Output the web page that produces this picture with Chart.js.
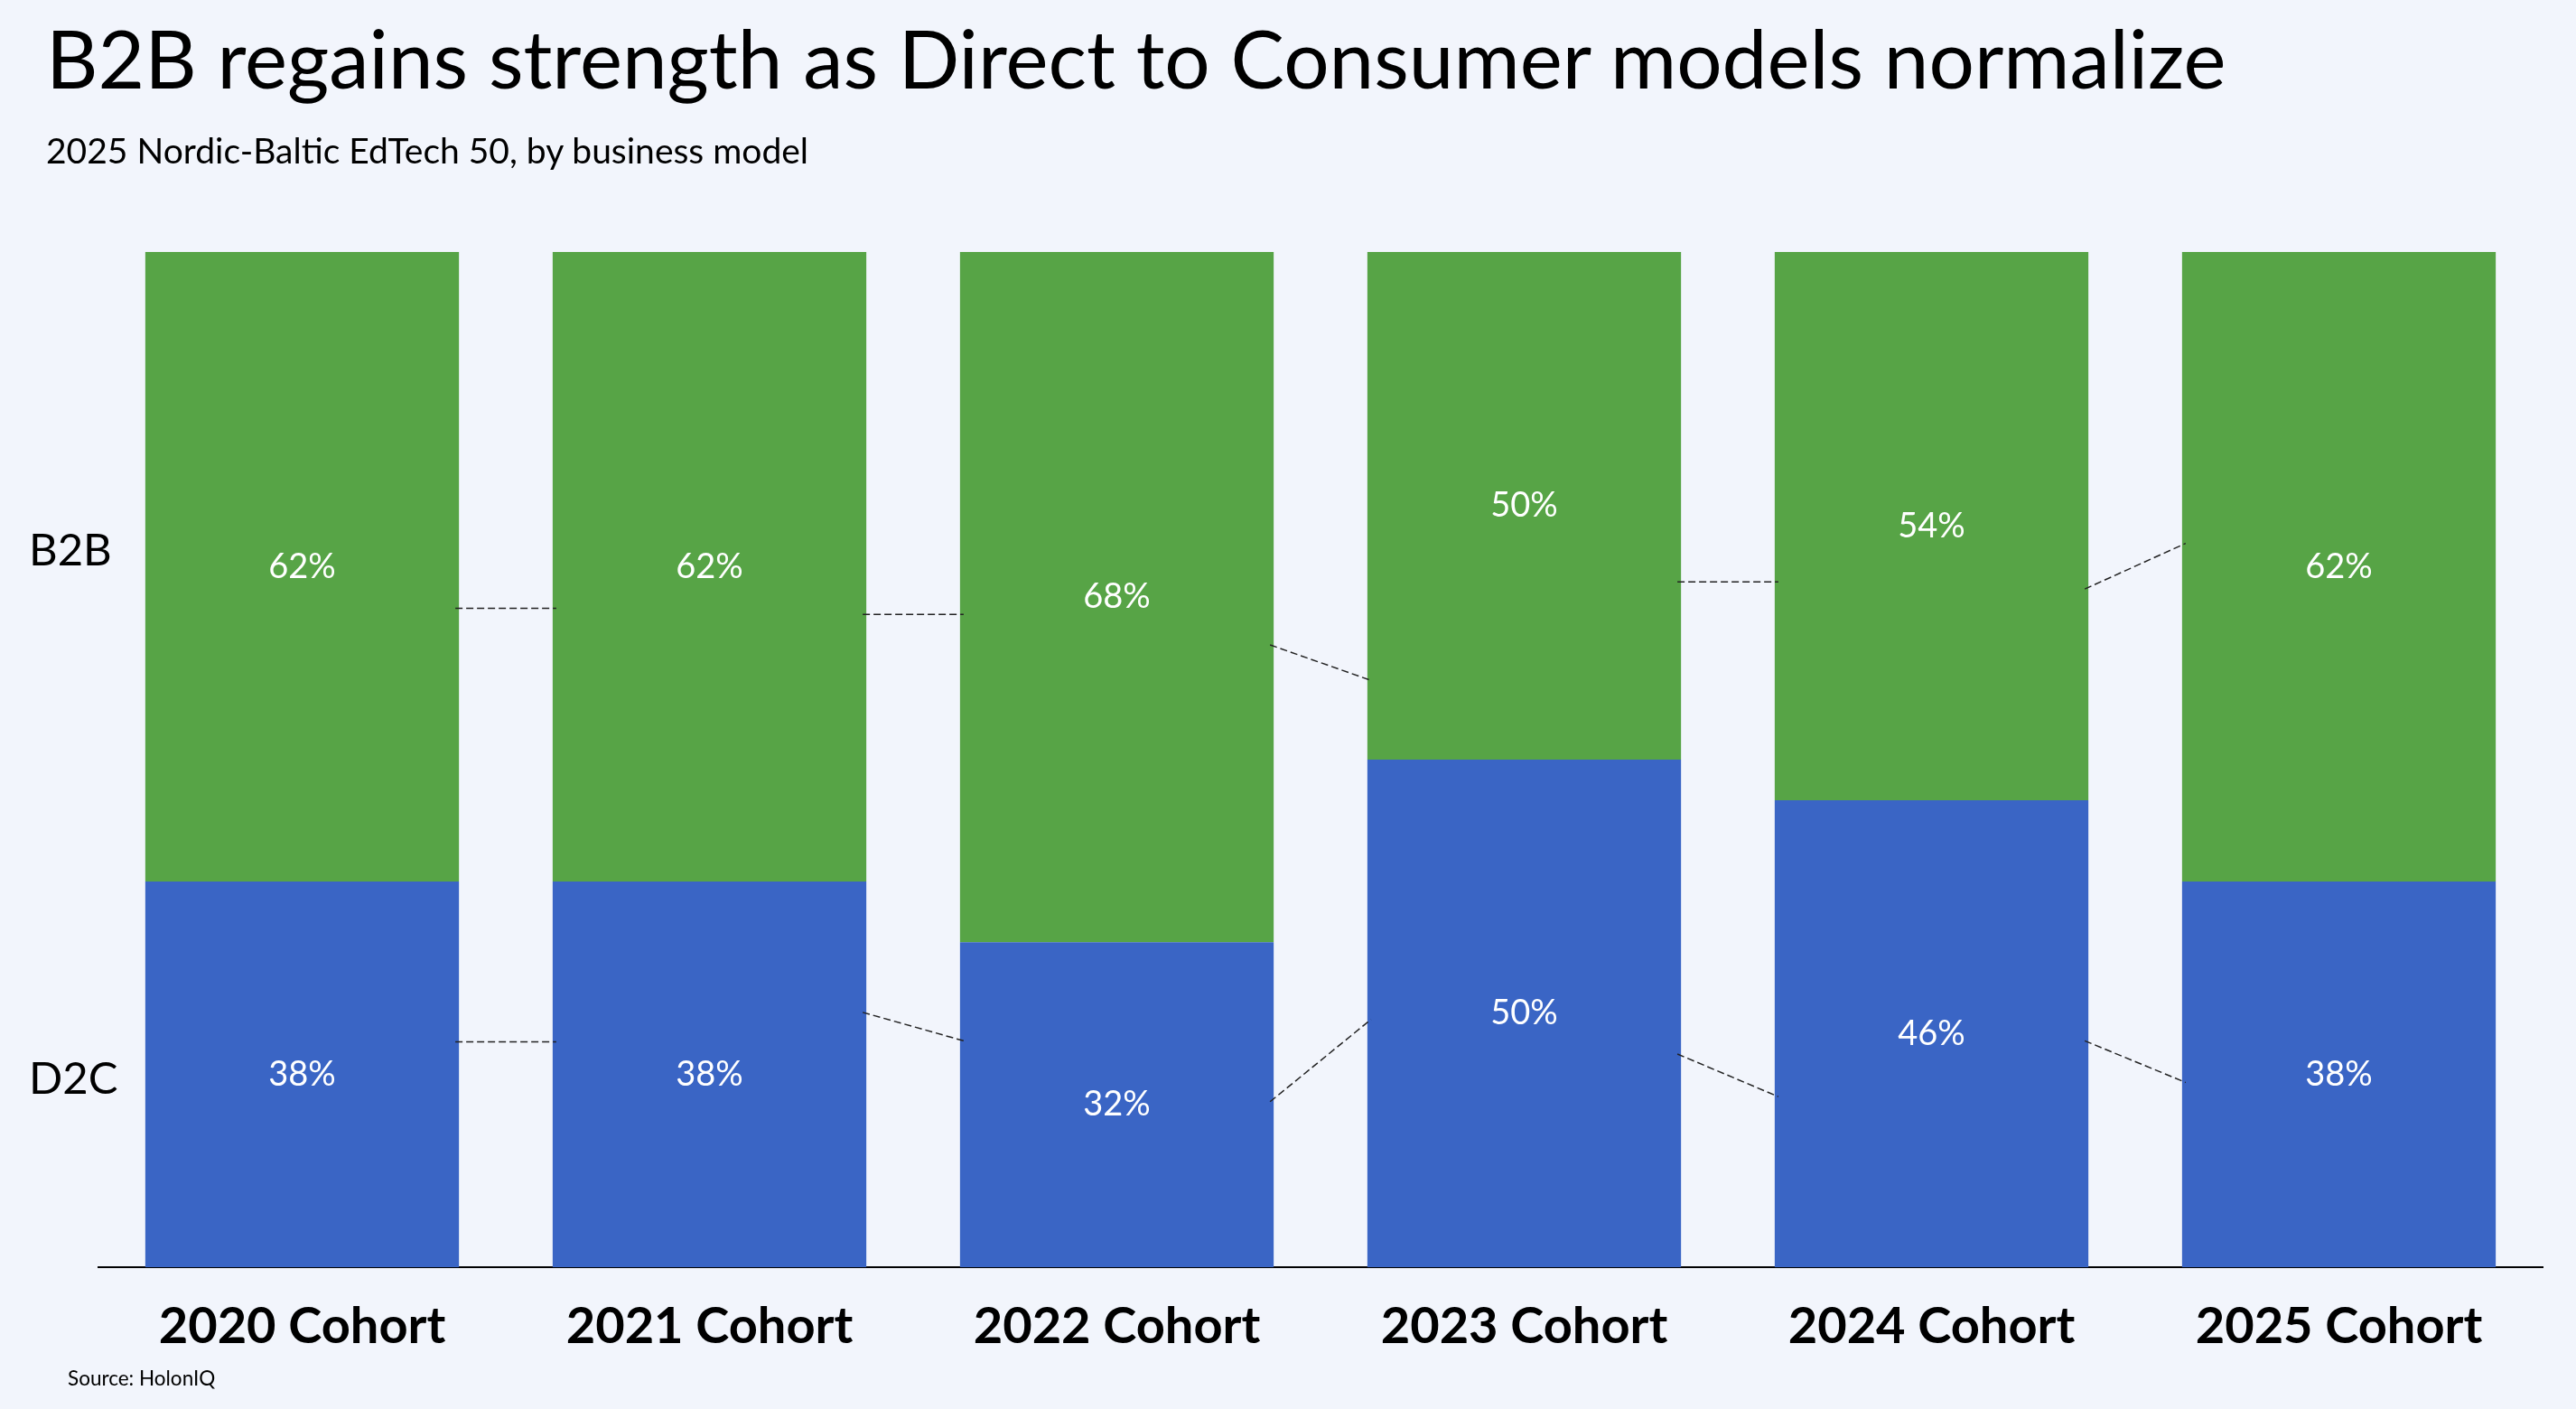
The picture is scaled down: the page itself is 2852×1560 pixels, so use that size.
<!DOCTYPE html>
<html>
<head>
<meta charset="utf-8">
<script src="https://cdn.jsdelivr.net/npm/chart.js@4.4.1/dist/chart.umd.min.js"></script>
<style>
  html, body { margin: 0; padding: 0; background: #F2F5FC; overflow: hidden; }
  #wrap { position: relative; width: 2852px; height: 1560px; }
  canvas { position: absolute; left: 0; top: 0; }
  .txt { position: absolute; font-family: Lato, sans-serif; color: #000; line-height: 1; white-space: nowrap; }
  #title { left: 51px; top: 19px; font-size: 89px; }
  #subtitle { left: 51px; top: 147px; font-size: 39px; }
  #source { left: 75px; top: 1515px; font-size: 22.5px; }
</style>
</head>
<body>
<div id="wrap">
  <canvas id="chart" width="2852" height="1560"></canvas>
  <div class="txt" id="title">B2B regains strength as Direct to Consumer models normalize</div>
  <div class="txt" id="subtitle">2025 Nordic-Baltic EdTech 50, by business model</div>
  <div class="txt" id="source">Source: HolonIQ</div>
</div>
<script>
const categories = ['2020 Cohort', '2021 Cohort', '2022 Cohort', '2023 Cohort', '2024 Cohort', '2025 Cohort'];
const d2cShare = [38, 38, 32, 50, 46, 38];
const b2bShare = [62, 62, 68, 50, 54, 62];

// row labels on the left, placed at these values of the 0-100 scale
const rowTickValues = [18.5, 70.5];
const rowTickLabels = ['D2C', 'B2B'];

// dashed connectors between neighbouring bars (value at left end, value at right end)
const b2bLinkFrom = [64.9, 64.3, 61.3, 67.5, 66.8];
const b2bLinkTo = [64.9, 64.3, 57.8, 67.5, 71.3];
const d2cLinkFrom = [22.2, 25.1, 16.3, 21.0, 22.3];
const d2cLinkTo = [22.2, 22.3, 24.4, 16.8, 18.2];

const GREEN = '#57A446';
const BLUE = '#3A65C5';

const connectorsAndLabels = {
  id: 'connectorsAndLabels',
  afterDatasetsDraw(chart) {
    const ctx = chart.ctx;
    const y = chart.scales.y;
    const bars = chart.getDatasetMeta(0).data;

    // connectors
    ctx.save();
    ctx.strokeStyle = '#222';
    ctx.lineWidth = 1.5;
    ctx.setLineDash([8, 4]);
    const links = [[b2bLinkFrom, b2bLinkTo], [d2cLinkFrom, d2cLinkTo]];
    links.forEach(([from, to]) => {
      for (let i = 0; i < bars.length - 1; i++) {
        const x1 = bars[i].x + bars[i].width / 2;
        const x2 = bars[i + 1].x - bars[i + 1].width / 2;
        ctx.beginPath();
        ctx.moveTo(x1 - 4, y.getPixelForValue(from[i]));
        ctx.lineTo(x2 + 4, y.getPixelForValue(to[i]));
        ctx.stroke();
      }
    });
    ctx.restore();

    // percentage labels
    ctx.save();
    ctx.fillStyle = '#fff';
    ctx.font = '38px Lato';
    ctx.textAlign = 'center';
    ctx.textBaseline = 'middle';
    chart.data.datasets.forEach((ds, di) => {
      chart.getDatasetMeta(di).data.forEach((bar, i) => {
        const p = bar.getCenterPoint();
        ctx.fillText(ds.data[i] + '%', p.x, p.y);
      });
    });
    ctx.restore();
  }
};

new Chart(document.getElementById('chart'), {
  type: 'bar',
  data: {
    labels: categories,
    datasets: [
      { label: 'D2C', data: d2cShare, backgroundColor: BLUE },
      { label: 'B2B', data: b2bShare, backgroundColor: GREEN }
    ]
  },
  options: {
    responsive: false,
    animation: false,
    devicePixelRatio: 1,
    layout: { padding: { left: 32, right: 37, top: 279, bottom: 57 } },
    datasets: {
      bar: { categoryPercentage: 1, barPercentage: 0.77, borderWidth: 0 }
    },
    plugins: {
      legend: { display: false },
      tooltip: { enabled: false }
    },
    scales: {
      x: {
        stacked: true,
        grid: { display: false, drawTicks: false },
        border: { display: true, color: '#000', width: 2 },
        ticks: {
          color: '#000',
          font: { family: 'Lato', size: 56, weight: 'bold' },
          padding: 32,
          maxRotation: 0
        },
        afterFit(scale) { scale.height = 100; }
      },
      y: {
        stacked: true,
        min: 0,
        max: 100,
        grid: { display: false, drawTicks: false },
        border: { display: false },
        afterBuildTicks(scale) {
          scale.ticks = rowTickValues.map(v => ({ value: v }));
        },
        ticks: {
          color: '#000',
          font: { family: 'Lato', size: 49 },
          mirror: true,
          padding: -77,
          callback(value) {
            return rowTickLabels[rowTickValues.indexOf(value)];
          }
        },
        afterFit(scale) { scale.width = 77; }
      }
    }
  },
  plugins: [connectorsAndLabels]
});
</script>
</body>
</html>
